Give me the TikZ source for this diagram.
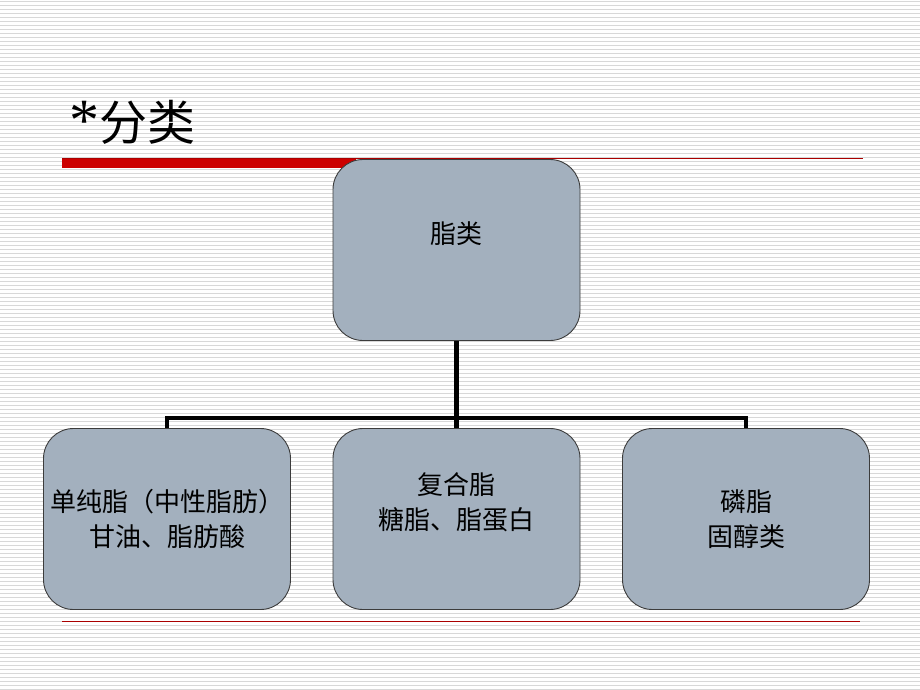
\documentclass[tikz,border=0pt]{standalone}
\usepackage{fontspec}
\newfontfamily\cjk{Noto Sans CJK SC}
\newfontfamily\latinserif{Liberation Serif}
\definecolor{boxfill}{RGB}{163,176,190}
\definecolor{boxline}{RGB}{60,60,60}
\definecolor{stripe}{RGB}{216,216,216}
\definecolor{barred}{RGB}{204,0,0}
\definecolor{thinred}{RGB}{170,0,0}
\tikzset{
  stripeline/.style={draw=stripe, line width=1pt},
  nodebox/.style={draw=boxline, line width=0.9pt, fill=boxfill, rounded corners=30pt,
    minimum width=247pt, minimum height=181pt, align=center, inner sep=0pt,
    font=\cjk\fontsize{26}{35}\selectfont, text=black},
  conn/.style={draw=black, line width=4.5pt},
  titlefont/.style={font=\fontsize{48}{56}\selectfont, inner sep=0pt}
}
\begin{document}
\begin{tikzpicture}[x=1pt,y=-1pt]
\useasboundingbox (0,0) rectangle (920,690);
\fill[white] (0,0) rectangle (920,690);
\foreach \i in {0,...,172} {
  \draw[stripeline] (0,{\i*4+1.5}) -- (920,{\i*4+1.5});
}
% title
\node[titlefont, anchor=base west] (title) at (69,140) {{\latinserif\fontsize{60}{60}\selectfont *}{\cjk 分类}};
% red rules
\fill[barred] (62,158) rectangle (356,168);
\draw[thinred, line width=1.2pt] (62,158.6) -- (863,158.6);
\draw[thinred, line width=1pt] (62,621) -- (860,621);
% boxes
\node[nodebox] (top) at (456.5,250) {脂类\\\mbox{}};
\node[nodebox] (left) at (167,519) {单纯脂（中性脂肪）\\甘油、脂肪酸};
\node[nodebox] (mid) at (456.5,519) {复合脂\\糖脂、脂蛋白\\\mbox{}};
\node[nodebox] (right) at (746,519) {磷脂\\固醇类};
% connectors
\coordinate (bus) at (456.5,418);
\draw[conn] (top.south) -- (bus);
\draw[conn] (bus) -- (mid.north);
\draw[conn] (left.north) |- (bus) -| (right.north);
\end{tikzpicture}
\end{document}
